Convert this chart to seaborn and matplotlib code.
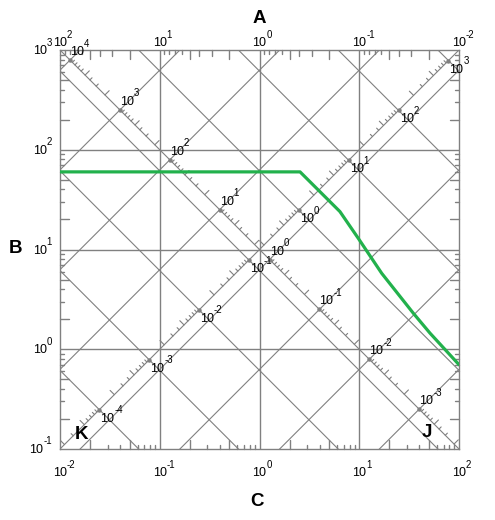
import numpy as np
import pandas as pd
import matplotlib
matplotlib.use("Agg")
import matplotlib.pyplot as plt
import seaborn as sns
from matplotlib.transforms import blended_transform_factory, offset_copy

# ---------------- data ----------------
freq_hz = [0.01, 2.55, 6.4, 9.8, 16.8, 34.8, 51.2, 100]
pseudo_vel = [60, 60, 24, 12.9, 5.77, 2.30, 1.45, 0.70]

freq_decades = [-2, -1, 0, 1, 2]        # bottom axis C (frequency)
period_decades = [2, 1, 0, -1, -2]      # top axis A (period)
vel_decades = [-1, 0, 1, 2, 3]          # left axis B (velocity)
accel_decades = [-4, -3, -2, -1, 0, 1, 2, 3]   # diagonal K axis (acceleration, g)
disp_decades = [4, 3, 2, 1, 0, -1, -2, -3]     # diagonal J axis (displacement)
minor_subs = [2, 3, 4, 5, 6, 7, 8, 9]
G_IN = 386.09
TWO_PI = 2 * np.pi

XLIM = (1e-2, 1e2)
YLIM = (1e-1, 1e3)

GRAY = "#808080"
GREEN = "#22B14C"

sns.set_theme(style="white")
plt.rcParams["font.family"] = ["Liberation Sans", "DejaVu Sans"]

fig = plt.figure(figsize=(4.95, 5.2), dpi=100)
ax = fig.add_axes([60 / 495, 71 / 520, 399 / 495, 399 / 520])
ax.set_xscale("log")
ax.set_yscale("log")
ax.set_xlim(*XLIM)
ax.set_ylim(*YLIM)
ax.tick_params(which="both", length=0, labelbottom=False, labelleft=False)
ax.set_xticks([])
ax.set_yticks([])
ax.minorticks_off()
for s in ax.spines.values():
    s.set_color(GRAY)
    s.set_linewidth(1.0)
ax.set_facecolor("white")

PX_PER_DEC = 399 / 4.0

# ---- major grid ----
for e in freq_decades[1:-1]:
    ax.axvline(10.0 ** e, color=GRAY, lw=1.0, zorder=1)
for e in vel_decades[1:-1]:
    ax.axhline(10.0 ** e, color=GRAY, lw=1.0, zorder=1)

# ---- diagonal grid: constant acceleration & displacement ----
fl = np.array(XLIM)
for e in range(-5, 5):
    A = 10.0 ** e
    ax.plot(fl, A * G_IN / (TWO_PI * fl), color=GRAY, lw=0.8, zorder=1)
    D = 10.0 ** e
    ax.plot(fl, TWO_PI * fl * D, color=GRAY, lw=0.8, zorder=1)

# ---- corner-to-corner tick axes ----
ax.plot([XLIM[0], XLIM[1]], [YLIM[0], YLIM[1]], color=GRAY, lw=0.8, zorder=1)   # K
ax.plot([XLIM[0], XLIM[1]], [YLIM[1], YLIM[0]], color=GRAY, lw=0.8, zorder=1)   # J
c_k = YLIM[0] / XLIM[0]
c_j = XLIM[0] * YLIM[1]


def tick_len(m, top=False):
    if m in (2, 5):
        return 9
    if top and m in (3, 4):
        return 6
    return 4


def diag_len(m):
    return 6 if m in (2, 5) else 3


def in_range(f):
    return XLIM[0] * 1.0001 < f < XLIM[1] * 0.9999


# K-axis ticks (acceleration), on upper-left side
for e in range(-5, 4):
    for m in [1] + minor_subs:
        A = m * 10.0 ** e
        f = np.sqrt(A * G_IN / (TWO_PI * c_k))
        if not in_range(f):
            continue
        V = c_k * f
        if m == 1:
            ax.plot([f], [V], "o", ms=2.2, color=GRAY, zorder=2)
            continue
        d = diag_len(m) / PX_PER_DEC / np.sqrt(2)
        ax.plot([f, f * 10 ** (-d)], [V, V * 10 ** d], color=GRAY, lw=0.8, zorder=2)

# J-axis ticks (displacement), on upper-right side
for e in range(-4, 5):
    for m in [1] + minor_subs:
        D = m * 10.0 ** e
        f = np.sqrt(c_j / (TWO_PI * D))
        if not in_range(f):
            continue
        V = c_j / f
        if m == 1:
            ax.plot([f], [V], "o", ms=2.2, color=GRAY, zorder=2)
            continue
        d = diag_len(m) / PX_PER_DEC / np.sqrt(2)
        ax.plot([f, f * 10 ** d], [V, V * 10 ** d], color=GRAY, lw=0.8, zorder=2)

# ---- edge ticks ----
tx = blended_transform_factory(ax.transData, ax.transAxes)
ty = blended_transform_factory(ax.transAxes, ax.transData)
for e in range(-2, 2):
    for m in minor_subs:
        f = m * 10.0 ** e
        L = tick_len(m) / 399
        ax.plot([f, f], [0, L], color=GRAY, lw=1.0, transform=tx, clip_on=False)
        T = m * 10.0 ** (e)
        fT = 1.0 / T
        Lt = tick_len(m, top=True) / 399
        ax.plot([fT, fT], [1, 1 - Lt], color=GRAY, lw=1.0, transform=tx, clip_on=False)
for e in range(-1, 3):
    for m in minor_subs:
        v = m * 10.0 ** e
        L = tick_len(m) / 399
        ax.plot([0, L], [v, v], color=GRAY, lw=1.0, transform=ty, clip_on=False)
        ax.plot([1, 1 - L], [v, v], color=GRAY, lw=1.0, transform=ty, clip_on=False)

# ---- green spectrum ----
df = pd.DataFrame({"freq": freq_hz, "vel": pseudo_vel})
sns.lineplot(data=df, x="freq", y="vel", color=GREEN, linewidth=2.3, ax=ax,
             estimator=None, sort=False, zorder=5)
ax.set_xlabel("")
ax.set_ylabel("")


# ---- power-of-ten labels ----
def p10(x, y, e, trans, dx, dy, ha="left", size=9, esize=7, rise=8.5):
    exp = str(e)
    w10 = 2 * 0.556 * size * 100 / 72
    wexp = sum(0.556 if c.isdigit() else 0.333 for c in exp) * esize * 100 / 72
    if ha == "center":
        x0 = dx - w10 / 2
    elif ha == "right":
        x0 = dx - (w10 + wexp)
    else:
        x0 = dx
    ax.text(x, y, "10", transform=offset_copy(trans, fig, x0, dy, units="dots"),
            ha="left", va="baseline", fontsize=size, color="black", zorder=6, clip_on=False)
    ax.text(x, y, exp, transform=offset_copy(trans, fig, x0 + w10, dy + rise, units="dots"),
            ha="left", va="baseline", fontsize=esize, color="black", zorder=6, clip_on=False)


for e in freq_decades:
    p10(10.0 ** e, 0, e, tx, 0, -27, ha="center")
for e in period_decades:
    p10(1.0 / 10.0 ** e, 1, e, tx, 0, 3.5, ha="center")
for e in vel_decades:
    p10(0, 10.0 ** e, e, ty, -8, -4, ha="right")

for e in accel_decades:
    A = 10.0 ** e
    f = np.sqrt(A * G_IN / (TWO_PI * c_k))
    p10(f, c_k * f, e, ax.transData, 1, -12)
for e in disp_decades:
    D = 10.0 ** e
    f = np.sqrt(c_j / (TWO_PI * D))
    p10(f, c_j / f, e, ax.transData, 0, 5)

# ---- big letters ----
def big(px, py, s):
    fig.text(px / 495, 1 - py / 520, s, ha="center", va="baseline",
             fontsize=13.5, fontweight="bold", color="black")

big(259, 23, "A")
big(16, 253, "B")
big(257, 506, "C")
big(82, 439, "K")
big(427, 437, "J")

fig.savefig("out.png", dpi=100)
